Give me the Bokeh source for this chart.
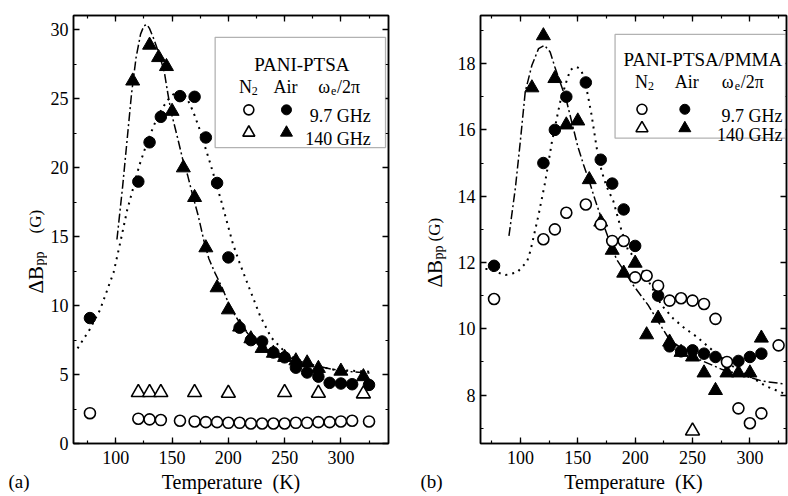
import math
from bokeh.plotting import figure
from bokeh.models import (Range1d, LinearAxis, SingleIntervalTicker, Label, BoxAnnotation,
                          CustomJSTickFormatter)
from bokeh.layouts import row
from bokeh.embed import file_html
from bokeh.resources import INLINE

FONT = "Liberation Serif"

# ---------------- Panel (a): PANI-PTSA ----------------
a_n2_97_T = [77, 120, 130, 140, 157, 170, 180, 190, 200, 210, 220, 230, 240, 250, 260, 270, 280, 290, 300, 310, 325]
a_n2_97_y = [2.2, 1.8, 1.75, 1.7, 1.65, 1.6, 1.55, 1.55, 1.5, 1.5, 1.45, 1.45, 1.45, 1.45, 1.5, 1.5, 1.55, 1.55, 1.6, 1.65, 1.6]
a_n2_140_T = [120, 130, 140, 170, 200, 250, 280, 320]
a_n2_140_y = [3.7, 3.7, 3.7, 3.7, 3.65, 3.7, 3.65, 3.6]
a_air_97_T = [77, 120, 130, 140, 157, 170, 180, 190, 200, 210, 220, 230, 240, 250, 260, 270, 280, 290, 300, 310, 325]
a_air_97_y = [9.1, 19.0, 21.85, 23.7, 25.2, 25.15, 22.2, 18.9, 13.5, 8.4, 7.5, 7.4, 6.6, 6.25, 5.5, 5.15, 4.85, 4.4, 4.35, 4.3, 4.25]
a_air_140_T = [115, 130, 138, 145, 150, 160, 170, 180, 190, 200, 210, 220, 230, 240, 250, 260, 270, 280, 300, 320]
a_air_140_y = [26.3, 28.9, 28.0, 27.35, 24.1, 20.0, 17.85, 14.2, 11.3, 9.7, 8.45, 7.6, 6.9, 6.55, 6.25, 6.0, 5.85, 5.45, 5.25, 4.85]
a_fit97_T = [66, 77, 86, 98, 104, 110, 116, 121, 126, 131, 136, 141, 147, 152, 157, 162, 166, 170, 174, 179,
             184, 189, 194, 199, 204, 210, 218, 228, 238, 253, 274, 294, 327]
a_fit97_y = [6.9, 8.3, 9.7, 12.4, 14.6, 16.9, 18.7, 20.2, 21.4, 22.5, 23.5, 24.3, 25.0, 25.4, 25.5, 25.2, 24.6, 23.8,
             22.9, 21.6, 20.3, 18.9, 17.5, 16.0, 14.5, 13.1, 11.4, 9.3, 7.7, 6.4, 5.7, 5.35, 5.2]
a_fit140_T = [101, 106, 110, 114, 118, 122, 125, 127.5, 130, 134, 138.7, 143, 146, 149, 154.8, 159.2, 164, 168, 173,
              178.3, 182.7, 188, 194.5, 200, 206, 212, 218, 226, 235.5, 250, 265, 280, 294, 310, 327]
a_fit140_y = [14.8, 18.6, 22.0, 25.4, 28.0, 29.7, 30.3, 30.4, 30.1, 29.3, 28.2, 27.0, 25.5, 24.1, 22.2, 20.7, 19.4,
              18.1, 16.6, 14.7, 13.4, 12.4, 11.3, 10.2, 9.3, 8.5, 7.9, 7.35, 6.9, 6.35, 5.95, 5.6, 5.36, 5.2, 5.1]
a_xlim = (62.4, 342.3)
a_ylim = (0.0, 31.05)
a_yticks = 5

# ---------------- Panel (b): PANI-PTSA/PMMA ----------------
b_n2_97_T = [77, 120, 130, 140, 157, 170, 180, 190, 200, 210, 220, 230, 240, 250, 260, 270, 280, 290, 300, 310, 325]
b_n2_97_y = [10.9, 12.7, 13.0, 13.5, 13.75, 13.15, 12.65, 12.65, 11.55, 11.6, 11.3, 10.85, 10.92, 10.85, 10.75,
             10.3, 9.0, 7.6, 7.15, 7.45, 9.5]
b_n2_140_T = [250]
b_n2_140_y = [6.92]
b_air_97_T = [77, 120, 130, 140, 157, 170, 180, 190, 200, 220, 230, 240, 250, 260, 270, 290, 300, 310]
b_air_97_y = [11.9, 15.0, 16.0, 17.0, 17.43, 15.1, 14.38, 13.6, 12.5, 11.0, 9.47, 9.32, 9.35, 9.25, 9.15, 9.03, 9.15, 9.25]
b_air_140_T = [110, 120, 130, 140, 150, 160, 170, 180, 190, 200, 210, 220, 230, 240, 250, 260, 270, 280, 290, 300, 310]
b_air_140_y = [17.27, 18.84, 17.55, 16.15, 16.27, 14.5, 13.22, 12.37, 11.68, 11.98, 9.82, 10.32, 9.6, 9.29, 9.15,
               8.67, 8.14, 8.67, 8.67, 8.67, 9.72]
b_fit97_T = [69.5, 72.4, 80, 86.9, 97.1, 105.8, 108.7, 112, 115.9, 121.7, 127.5, 134.7, 140, 143.4, 147, 150, 153,
             156.4, 159, 162, 166.5, 170.8, 175, 181, 188.2, 194, 200, 212.7, 222.8, 232.9, 243, 253.2, 263.4,
             273.5, 285, 299.6, 314, 330.4]
b_fit97_y = [11.8, 11.8, 11.7, 11.62, 11.7, 12.03, 12.35, 12.85, 13.45, 14.45, 15.65, 16.85, 17.45, 17.8, 17.9,
             17.88, 17.8, 17.45, 17.0, 16.45, 15.45, 14.75, 14.3, 13.85, 12.95, 12.35, 12.15, 11.37, 10.72, 10.32,
             10.02, 9.77, 9.47, 9.17, 8.87, 8.57, 8.27, 8.04]
b_fit140_T = [90, 95.6, 99.9, 104.2, 110, 115.8, 121, 125.9, 130, 135, 140, 145, 150, 155, 160, 165, 170.8, 176,
              183.7, 190.3, 198.2, 211.2, 220, 230, 240.2, 256, 276, 296.7, 311, 329]
b_fit140_y = [12.8, 14.25, 15.65, 17.15, 17.95, 18.45, 18.55, 18.35, 17.9, 17.4, 16.9, 16.2, 15.5, 14.95, 14.45,
              13.9, 13.3, 12.8, 12.1, 11.75, 11.32, 10.72, 10.22, 9.67, 9.42, 9.07, 8.77, 8.57, 8.42, 8.34]
b_xlim = (65.2, 331.9)
b_ylim = (6.54, 19.45)
b_yticks = 2

# texts
xlabel = "Temperature\u00a0\u00a0(K)"
ylabel_parts = ["ΔB", "pp", "(G)"]
legend_a_title = "PANI-PTSA"
legend_b_title = "PANI-PTSA/PMMA"
freq_labels = ["9.7 GHz", "140 GHz"]

# reference frame boxes (left, right, top, bottom) used to place in-frame annotations
REF_A = (70, 388, 15, 446)
REF_B = (480, 787, 15, 444)
H = 495


def make_panel(xlim, ylim, ytick, width, mbl, mbr):
    p = figure(width=width, height=H, x_range=Range1d(*xlim), y_range=Range1d(*ylim),
               output_backend="svg", toolbar_location=None, frame_align=False,
               min_border_left=mbl, min_border_right=mbr, min_border_top=15, min_border_bottom=52,
               background_fill_color="white", border_fill_color="white",
               outline_line_color="black", outline_line_width=1.5)
    p.xgrid.visible = False
    p.ygrid.visible = False
    bottom = p.below[0]
    left = p.left[0]
    bottom.ticker = SingleIntervalTicker(interval=50, num_minor_ticks=2)
    left.ticker = SingleIntervalTicker(interval=ytick, num_minor_ticks=2)
    top = LinearAxis(ticker=SingleIntervalTicker(interval=50, num_minor_ticks=2))
    right = LinearAxis(ticker=SingleIntervalTicker(interval=ytick, num_minor_ticks=2))
    p.add_layout(top, "above")
    p.add_layout(right, "right")
    for ax in (bottom, left, top, right):
        ax.major_tick_in = 6
        ax.major_tick_out = 0
        ax.minor_tick_in = 3
        ax.minor_tick_out = 0
        ax.major_tick_line_color = "black"
        ax.minor_tick_line_color = "black"
        ax.major_tick_line_width = 1.3
        ax.minor_tick_line_width = 1.2
        ax.axis_line_color = "black"
        ax.axis_line_width = 1.5
        ax.major_label_text_font = FONT
        ax.major_label_text_font_size = "18px"
        ax.major_label_text_color = "black"
    for ax in (top, right):
        ax.formatter = CustomJSTickFormatter(code="return ''")
        ax.major_label_text_font_size = "1px"
        ax.major_label_standoff = 0
        ax.axis_label_standoff = 0
    bottom.major_label_standoff = 7
    left.major_label_standoff = 5
    bottom.axis_label = xlabel
    bottom.axis_label_text_font = FONT
    bottom.axis_label_text_font_size = "20px"
    bottom.axis_label_text_font_style = "normal"
    bottom.axis_label_text_color = "black"
    bottom.axis_label_standoff = 4
    return p


def text_panel(width):
    f = figure(width=width, height=H, x_range=Range1d(0, width), y_range=Range1d(H, 0),
               output_backend="svg", toolbar_location=None, min_border=0, frame_align=False,
               x_axis_location=None, y_axis_location=None, outline_line_color=None,
               background_fill_color="white", border_fill_color="white")
    f.xgrid.visible = False
    f.ygrid.visible = False
    return f


def mapper(p, ref):
    L, R, T, B = ref
    xr, yr = p.x_range, p.y_range

    def at(px, py):
        x = xr.start + (px - L) / (R - L) * (xr.end - xr.start)
        y = yr.start + (B - py) / (B - T) * (yr.end - yr.start)
        return x, y
    return at


def ident(px, py):
    return px, py


def label(p, at, px, py, text, size="18px", align="left", baseline="alphabetic", angle=0.0):
    x, y = at(px, py)
    p.add_layout(Label(x=x, y=y, text=text, text_font=FONT, text_font_size=size, text_color="black",
                       text_align=align, text_baseline=baseline, angle=angle))


def draw_data(p, n97T, n97y, n140T, n140y, a97T, a97y, a140T, a140y, f97T, f97y, f140T, f140y):
    p.line(f97T, f97y, line_color="black", line_width=2, line_dash="2 5")
    p.line(f140T, f140y, line_color="black", line_width=1.5, line_dash="9 3 2 3")
    p.scatter(a140T, a140y, marker="triangle", size=14, fill_color="black", line_color="black")
    p.scatter(a97T, a97y, marker="circle", size=11.5, fill_color="black", line_color="black")
    p.scatter(n97T, n97y, marker="circle", size=11, fill_color="white", line_color="black", line_width=1.6)
    p.scatter(n140T, n140y, marker="triangle", size=14, fill_color="white", line_color="black", line_width=1.6)


def draw_legend(p, at, box, title, title_xy, n_x, air_x, om_x, hdr_y, mk_open_x, mk_fill_x, rows_y,
                txt_right, txt_base):
    L, R, T, B = box
    x0, y0 = at(L, B)
    x1, y1 = at(R, T)
    p.add_layout(BoxAnnotation(left=x0, right=x1, bottom=y0, top=y1, fill_color="white", fill_alpha=1.0,
                               line_color="black", line_width=1.3, level="annotation"))
    label(p, at, title_xy[0], title_xy[1], title, size="19px", align="center")
    label(p, at, n_x, hdr_y, "N")
    label(p, at, n_x + 13, hdr_y + 4, "2", size="12px")
    label(p, at, air_x, hdr_y, "Air")
    label(p, at, om_x, hdr_y, "ω")
    label(p, at, om_x + 13, hdr_y + 4, "e", size="12px")
    label(p, at, om_x + 19, hdr_y, "/2π")
    mx_o = [at(mk_open_x, ry)[0] for ry in rows_y]
    mx_f = [at(mk_fill_x, ry)[0] for ry in rows_y]
    my = [at(mk_open_x, ry)[1] for ry in rows_y]
    p.scatter([mx_f[0]], [my[0]], marker="circle", size=10, fill_color="black", line_color="black",
              level="overlay")
    p.scatter([mx_o[0]], [my[0]], marker="circle", size=10, fill_color="white", line_color="black",
              line_width=1.6, level="overlay")
    p.scatter([mx_f[1]], [my[1]], marker="triangle", size=12, fill_color="black", line_color="black",
              level="overlay")
    p.scatter([mx_o[1]], [my[1]], marker="triangle", size=12, fill_color="white", line_color="black",
              line_width=1.6, level="overlay")
    for t, b in zip(freq_labels, txt_base):
        label(p, at, txt_right, b, t, align="right")


def draw_ylabel(f, bx, yb_delta, yb_pp, yb_g):
    ang = math.pi / 2
    label(f, ident, bx, yb_delta, ylabel_parts[0], size="21px", angle=ang)
    label(f, ident, bx + 3.5, yb_pp, ylabel_parts[1], size="14px", angle=ang)
    label(f, ident, bx, yb_g, ylabel_parts[2], size="17px", angle=ang)


# ---- text strip left of panel (a): page x 0..47
ta = text_panel(47)
draw_ylabel(ta, 35, 293, 265, 233)
label(ta, ident, 8, 481, "(a)", size="19px")

# ---- panel (a): page x 47..398, frame 70..388
pa = make_panel(a_xlim, a_ylim, a_yticks, 351, 23, 10)
at_a = mapper(pa, REF_A)
draw_data(pa, a_n2_97_T, a_n2_97_y, a_n2_140_T, a_n2_140_y, a_air_97_T, a_air_97_y, a_air_140_T, a_air_140_y,
          a_fit97_T, a_fit97_y, a_fit140_T, a_fit140_y)
draw_legend(pa, at_a, (213, 385, 37, 148), legend_a_title, (300.5, 64), 237, 272, 317, 87, 247, 285,
            [110, 133], 370, [116, 139.5])

# ---- text strip left of panel (b): page x 398..454
tb = text_panel(56)
draw_ylabel(tb, 36, 287, 259, 241)
label(tb, ident, 22, 481, "(b)", size="19px")

# ---- panel (b): page x 454..788, frame 480..786
pb = make_panel(b_xlim, b_ylim, b_yticks, 334, 26, 2)
at_b = mapper(pb, REF_B)
draw_data(pb, b_n2_97_T, b_n2_97_y, b_n2_140_T, b_n2_140_y, b_air_97_T, b_air_97_y, b_air_140_T, b_air_140_y,
          b_fit97_T, b_fit97_y, b_fit140_T, b_fit140_y)
draw_legend(pb, at_b, (615, 786, 34, 138), legend_b_title, (703, 59), 635, 675, 722, 82, 642, 685,
            [109, 128], 783, [116, 135])

layout = row(ta, pa, tb, pb)
open("out.html", "w").write(file_html(layout, INLINE))
